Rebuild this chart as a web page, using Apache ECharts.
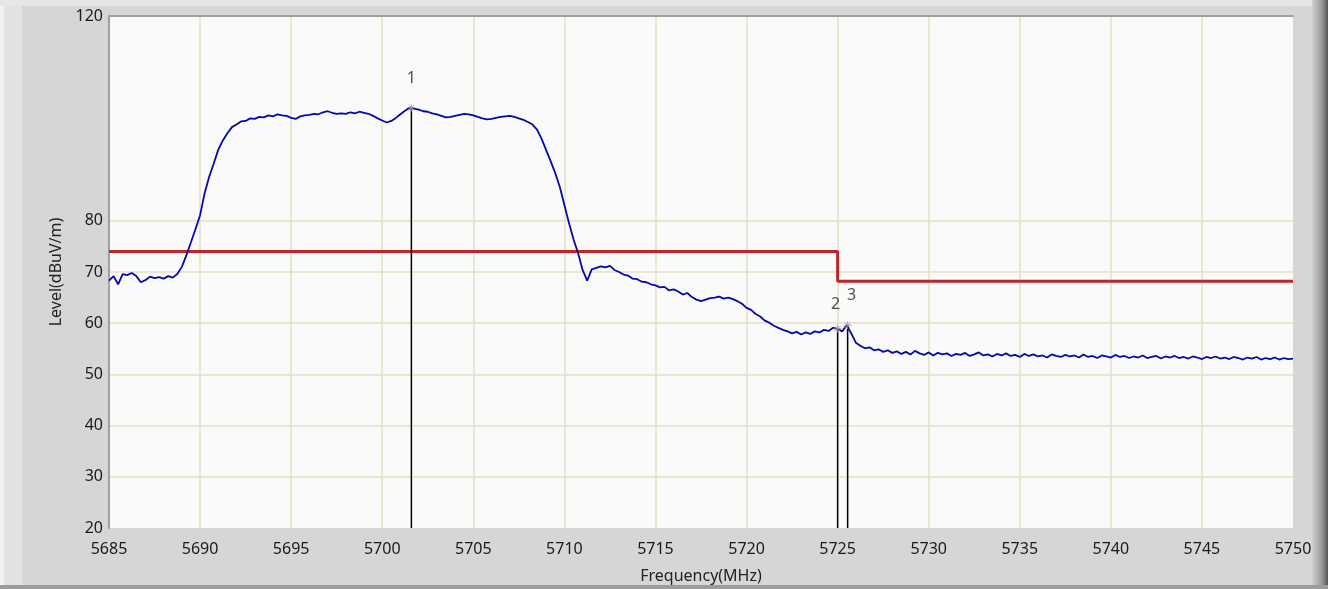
<!DOCTYPE html>
<html><head><meta charset="utf-8">
<script src="https://cdn.jsdelivr.net/npm/echarts@6/dist/echarts.min.js"></script>
<style>html,body{margin:0;padding:0;background:#d6d6d6}#c{width:1335px;height:589px}</style>
</head><body><div id="c"></div>
<script>
// Sweep: start frequency (MHz) and step between readings
const freqStart = 5685;
const freqStep = 0.25;
// Measured level (dBuV/m), one reading per step
const level = [
68.3,69.2,67.6,69.6,69.4,69.8,69.2,68.0,68.4,69.1,68.8,69.0,68.7,69.2,68.9,69.6,
71.0,73.3,75.8,78.4,81.1,85.4,88.6,91.2,93.9,95.7,97.1,98.3,98.8,99.4,99.5,100.0,
99.9,100.3,100.2,100.6,100.4,100.8,100.6,100.5,100.1,99.9,100.4,100.6,100.7,100.9,100.8,101.2,
101.4,101.1,100.9,101.0,100.9,101.2,101.0,101.3,101.1,100.9,100.5,100.0,99.6,99.2,99.5,100.1,
100.8,101.5,102.1,101.9,101.7,101.4,101.3,101.0,100.8,100.5,100.2,100.3,100.5,100.7,100.9,100.8,
100.6,100.3,100.0,99.8,99.9,100.1,100.3,100.4,100.5,100.3,100.0,99.7,99.3,98.8,97.8,96.0,
93.8,91.6,89.3,86.6,83.1,79.6,76.4,73.7,70.4,68.3,70.5,70.8,71.1,70.9,71.2,70.4,
70.0,69.5,69.3,68.7,68.6,68.1,68.0,67.6,67.4,67.0,67.1,66.4,66.6,66.2,65.6,65.9,
65.1,64.6,64.3,64.6,64.9,65.0,65.2,64.8,65.0,64.7,64.3,63.8,63.0,62.6,61.8,61.3,
60.5,60.1,59.5,59.1,58.7,58.4,58.0,58.3,57.8,58.2,57.9,58.4,58.2,58.7,58.5,59.1,
58.9,58.4,59.6,58.0,56.2,55.6,55.1,55.3,54.7,54.9,54.4,54.7,54.2,54.5,54.0,54.4,
53.9,54.6,54.1,53.8,54.3,53.7,54.2,53.9,54.1,53.6,54.0,53.8,54.2,53.6,53.9,54.3,
53.7,53.9,53.5,54.0,53.7,54.1,53.6,53.8,53.4,54.0,53.6,53.9,53.5,53.7,53.3,53.9,
53.6,53.4,53.8,53.5,53.7,53.3,53.9,53.4,53.6,53.2,53.7,53.5,53.3,53.8,53.4,53.6,
53.2,53.5,53.3,53.7,53.2,53.4,53.6,53.1,53.5,53.3,53.6,53.2,53.4,53.1,53.5,53.3,
53.0,53.4,53.2,53.5,53.1,53.3,53.0,53.4,53.2,52.9,53.3,53.1,53.4,52.9,53.2,53.0,
53.3,52.9,53.2,53.0,53.1
];
// Limit line
const limitFreq = [5685, 5725, 5725, 5750];
const limitLevel = [74, 74, 68.2, 68.2];
// Markers
const markerFreq = [5701.6, 5725.0, 5725.55];
const markerLevel = [102.1, 58.9, 59.6];
const markerLabel = ['1', '2', '3'];
// Axes
const xMin = 5685, xMax = 5750, xInterval = 5;
const yMin = 20, yMax = 120, yInterval = 10;
const yLabelsShown = [20, 30, 40, 50, 60, 70, 80, 120];
const xName = 'Frequency(MHz)';
const yName = 'Level(dBuV/m)';

// ---- styling ----
const GRID = '#e4dfc6', NONE = 'rgba(0,0,0,0)';
const FONT = 'Noto Sans';
const markerLabelOffset = [[0, -5], [-2, 0], [4, -5]];

const traceData = level.map((v, i) => [freqStart + i * freqStep, v]);
const limitData = limitFreq.map((f, i) => [f, limitLevel[i]]);

const ySplitColors = [];
for (let v = yMin; v <= yMax; v += yInterval) {
  ySplitColors.push(v > yMin && v <= 80 ? GRID : NONE);
}
const xSplitColors = [];
for (let v = xMin; v <= xMax; v += xInterval) {
  xSplitColors.push(v > xMin && v < xMax ? GRID : NONE);
}

const markerLines = markerFreq.map((f, i) => ({
  type: 'line', xAxisIndex: 0, yAxisIndex: 0, symbol: 'none', silent: true,
  data: [[f, yMin], [f, markerLevel[i]]],
  lineStyle: { color: '#000', width: 1.5 }, z: 4, animation: false
}));

const chart = echarts.init(document.getElementById('c'), null, { renderer: 'canvas' });
chart.setOption({
  animation: false,
  backgroundColor: '#d6d6d6',
  textStyle: { fontFamily: FONT },
  graphic: [
    { type: 'rect', left: 0, top: 0, shape: { width: 22, height: 589 }, style: { fill: '#e2e2e2' }, z: -10 },
    { type: 'rect', left: 0, top: 0, shape: { width: 4, height: 589 }, style: { fill: '#f2f2f2' }, z: -10 },
    { type: 'rect', left: 0, top: 0, shape: { width: 1335, height: 6 }, style: { fill: '#e6e6e6' }, z: -10 },
    { type: 'rect', left: 1312, top: 0, shape: { width: 16, height: 589 },
      style: { fill: new echarts.graphic.LinearGradient(0, 0, 1, 0, [
        { offset: 0, color: '#d0d0d0' }, { offset: 0.6, color: '#9a9a9a' }, { offset: 1, color: '#555' }]) }, z: -10 },
    { type: 'rect', left: 1328, top: 0, shape: { width: 7, height: 589 }, style: { fill: '#ffffff' }, z: -10 },
    { type: 'rect', left: 0, top: 585, shape: { width: 1328, height: 4 }, style: { fill: '#9c9c9c' }, z: -10 }
  ],
  grid: { left: 109, right: 42, top: 16, bottom: 60, show: true, backgroundColor: '#fafafa', borderWidth: 0 },
  xAxis: [{
    type: 'value', min: xMin, max: xMax, interval: xInterval,
    name: xName, nameLocation: 'middle', nameGap: 40,
    nameTextStyle: { color: '#222', fontSize: 16, fontFamily: FONT },
    axisLine: { show: false }, axisTick: { show: false },
    axisLabel: { color: '#1a1a1a', fontSize: 16, margin: 13, fontFamily: FONT, formatter: v => String(v) },
    splitLine: { show: true, showMinLine: true, showMaxLine: true, lineStyle: { color: xSplitColors, width: 1.5 } }
  }, {
    type: 'value', position: 'top', min: xMin, max: xMax,
    axisLine: { show: true, lineStyle: { color: '#a0a0a0', width: 2 } },
    axisTick: { show: false }, axisLabel: { show: false }, splitLine: { show: false }
  }],
  yAxis: {
    type: 'value', min: yMin, max: yMax, interval: yInterval,
    name: yName, nameLocation: 'middle', nameGap: 38,
    nameTextStyle: { color: '#222', fontSize: 16, fontFamily: FONT },
    axisLine: { show: true, lineStyle: { color: '#a0a0a0', width: 2 } },
    axisTick: { show: false },
    axisLabel: { color: '#1a1a1a', fontSize: 16, margin: 6, fontFamily: FONT,
      formatter: v => yLabelsShown.indexOf(v) >= 0 ? String(v) : '' },
    splitLine: { show: true, showMinLine: true, showMaxLine: true, lineStyle: { color: ySplitColors, width: 1.5 } }
  },
  series: [
    { type: 'line', data: limitData, symbol: 'none', silent: true, z: 2,
      lineStyle: { color: '#bf252b', width: 3 } },
    { type: 'line', data: traceData, symbol: 'none', silent: true, z: 3,
      lineStyle: { color: '#0808a6', width: 1.8 } },
    ...markerLines,
    { type: 'scatter', silent: true, z: 5,
      data: markerFreq.map((f, i) => ({
        value: [f, markerLevel[i]],
        label: { offset: markerLabelOffset[i] }
      })),
      symbol: 'path://M0,-5L0,5M-5,0L5,0M-3.5,-3.5L3.5,3.5M-3.5,3.5L3.5,-3.5',
      symbolSize: 8,
      itemStyle: { color: 'none', borderColor: '#999', borderWidth: 1 },
      label: { show: true, position: 'top', distance: 10, color: '#222', fontSize: 16, fontFamily: FONT,
        formatter: p => markerLabel[p.dataIndex] }
    }
  ]
});
</script>
</body></html>
